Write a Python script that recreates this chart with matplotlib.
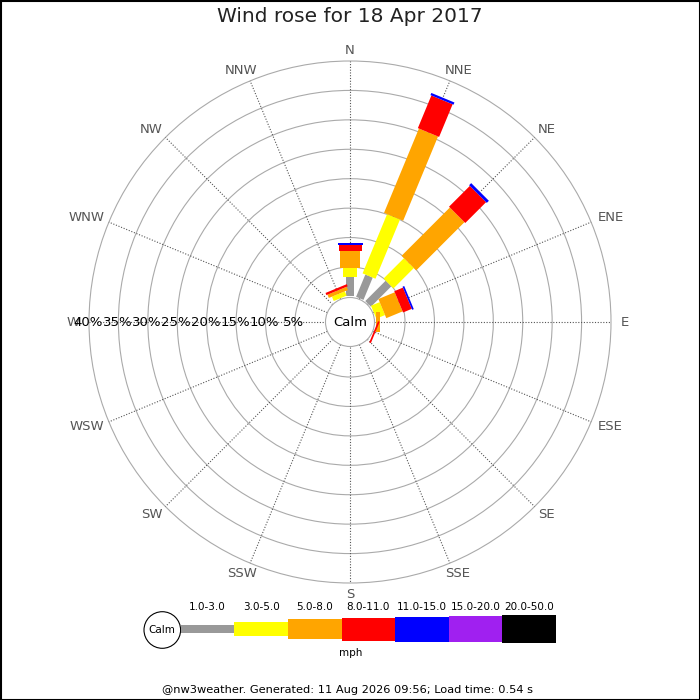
import numpy as np
import matplotlib
matplotlib.use("Agg")
import matplotlib.pyplot as plt
from matplotlib.patches import Polygon, Circle, Rectangle

# Wind directions (compass order) and speed classes
directions = ["N", "NNE", "NE", "ENE", "E", "ESE", "SE", "SSE",
              "S", "SSW", "SW", "WSW", "W", "WNW", "NW", "NNW"]
speed_labels = ["1.0-3.0", "3.0-5.0", "5.0-8.0", "8.0-11.0",
                "11.0-15.0", "15.0-20.0", "20.0-50.0"]
speed_colors = ["#999999", "#ffff00", "#ffa500", "#ff0000",
                "#0000ff", "#a020f0", "#000000"]

# Frequency (%) per speed class, one value per direction
freq_1_3 = [3.25, 4.1, 4.9, 0, 0, 0, 0, 0, 0, 0, 0, 0, 0, 0, 0, 0]
freq_3_5 = [1.65, 10.9, 4.9, 1.6, 0, 0, 0, 0, 0, 0, 0, 0, 0, 0, 0, 0.8]
freq_5_8 = [2.8, 15.5, 11.6, 3.0, 0.7, 0, 0, 0, 0, 0, 0, 0, 0, 0, 0, 0.6]
freq_8_11 = [1.05, 6.0, 5.0, 1.6, 0, 0.3, 0, 0, 0, 0, 0, 0, 0, 0, 0, 0.4]
freq_11_15 = [0.3, 0.4, 0.5, 0.3, 0, 0, 0, 0, 0, 0, 0, 0, 0, 0, 0, 0]
freq_15_20 = [0] * 16
freq_20_50 = [0] * 16
freqs = [freq_1_3, freq_3_5, freq_5_8, freq_8_11, freq_11_15, freq_15_20, freq_20_50]

ring_pcts = [5, 10, 15, 20, 25, 30, 35, 40]

# layout (pixel units)
cx, cy = 350, 322
r_calm = 24.5
r0 = 25.6
scale = (261 - r0) / 40
bar_widths = [8, 14, 20.7, 23, 25, 26.7, 28.3]


def rad(p):
    return r0 + scale * p


fig = plt.figure(figsize=(7, 7), dpi=100)
ax = fig.add_axes([0, 0, 1, 1])
ax.set_xlim(0, 700)
ax.set_ylim(700, 0)
ax.axis("off")
renderer = fig.canvas.get_renderer()

# rings and spokes
for p in ring_pcts:
    ax.add_patch(Circle((cx, cy), rad(p), fill=False, ec="#aaaaaa", lw=0.8, zorder=1))
for i, d in enumerate(directions):
    th = np.radians(i * 22.5)
    ux, uy = np.sin(th), -np.cos(th)
    ax.plot([cx + ux * r_calm, cx + ux * rad(40)], [cy + uy * r_calm, cy + uy * rad(40)],
            ls=(0, (1, 1.5)), color="#555555", lw=0.8, zorder=1)
    t = ax.text(cx + ux * 272, cy + uy * 272, d, ha="center", va="center",
                fontsize=9.5, color="#555555", zorder=5)
    # push label outward by part of its width along x
    w = t.get_window_extent(renderer).width
    t.set_x(cx + ux * 272 + ux * w * 0.38)

# bars
for i in range(len(directions)):
    th = np.radians(i * 22.5)
    ux, uy = np.sin(th), -np.cos(th)
    px, py = np.cos(th), np.sin(th)
    cum = 0
    for k, f in enumerate(freqs):
        v = f[i]
        if v <= 0:
            continue
        a, b = rad(cum), rad(cum + v)
        h = bar_widths[k] / 2
        pts = [(cx + ux * a + px * h, cy + uy * a + py * h),
               (cx + ux * b + px * h, cy + uy * b + py * h),
               (cx + ux * b - px * h, cy + uy * b - py * h),
               (cx + ux * a - px * h, cy + uy * a - py * h)]
        ax.add_patch(Polygon(pts, closed=True, fc=speed_colors[k], ec="none", zorder=3))
        cum += v

# calm circle
ax.add_patch(Circle((cx, cy), r_calm, fc="white", ec="#aaaaaa", lw=0.8, zorder=4))
ax.text(cx, cy, "Calm", ha="center", va="center", fontsize=9.5, zorder=6)

# percentage labels along the west axis
for p in ring_pcts:
    ax.text(cx - rad(p) - 1, cy, f"{p}%", ha="center", va="center", fontsize=9.5, zorder=6)

# title
ax.text(350, 17, "Wind rose for 18 Apr 2017", ha="center", va="center",
        fontsize=14.5, color="#222222")

# legend
lx, ly, seg = 180.7, 629, 53.6
ax.add_patch(Circle((162.3, 630), 18.3, fc="white", ec="black", lw=0.8))
ax.text(162.3, 630, "Calm", ha="center", va="center", fontsize=7.5)
for k, lab in enumerate(speed_labels):
    x0 = lx + k * seg
    h = bar_widths[k]
    ax.add_patch(Rectangle((x0, ly - h / 2), seg, h, fc=speed_colors[k], ec="none"))
    ax.text(x0 + seg / 2, 606.5, lab, ha="center", va="center", fontsize=7.5)
ax.text(350.7, 653, "mph", ha="center", va="center", fontsize=7.5)

# footer
ax.text(348, 690, "@nw3weather. Generated: 11 Aug 2026 09:56; Load time: 0.54 s",
        ha="center", va="center", fontsize=8.2)

# frame
ax.add_patch(Rectangle((0.5, 0.5), 699, 699, fill=False, ec="black", lw=1.5))

fig.savefig("out.png", dpi=100)
